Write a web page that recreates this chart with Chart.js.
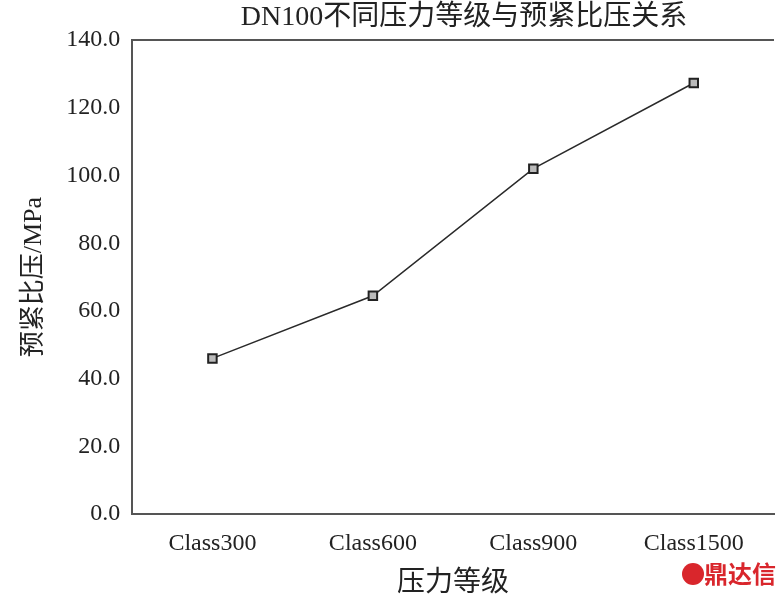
<!DOCTYPE html>
<html>
<head>
<meta charset="utf-8">
<script src="https://cdn.jsdelivr.net/npm/chart.js@4"></script>
<style>
html,body{margin:0;padding:0;background:#fff;}
#wrap{width:782px;height:596px;position:relative;}
</style>
</head>
<body>
<div id="wrap"><canvas id="c"></canvas></div>
<script>
const categories = ["Class300", "Class600", "Class900", "Class1500"];
const pressureValues = [46.0, 64.5, 102.0, 127.3];
const yTicks = [0, 20, 40, 60, 80, 100, 120, 140];
const titleText = "DN100不同压力等级与预紧比压关系";
const xTitle = "压力等级";
const yTitle = "预紧比压/MPa";
const watermark = "鼎达信";

const serif = "'Liberation Serif','Noto Sans CJK SC',serif";

const framePlugin = {
  id: 'frame',
  afterDraw(chart) {
    const {ctx, chartArea} = chart;
    ctx.save();
    ctx.strokeStyle = '#555';
    ctx.lineWidth = 2;
    ctx.beginPath();
    ctx.moveTo(chartArea.left, chartArea.top);
    ctx.lineTo(chartArea.right, chartArea.top);
    ctx.stroke();
    // title centred over the plot area
    ctx.fillStyle = '#222';
    ctx.font = "28px " + serif;
    ctx.textAlign = 'center';
    ctx.textBaseline = 'middle';
    ctx.fillText(titleText, 464, 18);
    // watermark
    ctx.fillStyle = '#d9262c';
    ctx.font = "bold 24px 'Noto Sans CJK SC'";
    ctx.textAlign = 'right';
    ctx.fillText(watermark, 776, 574);
    ctx.beginPath();
    ctx.arc(693, 574, 11, 0, Math.PI * 2);
    ctx.fill();
    ctx.restore();
  }
};

new Chart(document.getElementById('c'), {
  type: 'line',
  data: {
    labels: categories,
    datasets: [{
      data: pressureValues,
      borderColor: '#2a2a2a',
      borderWidth: 1.5,
      pointStyle: 'rect',
      pointRadius: 6,
      pointBorderColor: '#222',
      pointBorderWidth: 2,
      pointBackgroundColor: '#bbb',
      tension: 0
    }]
  },
  options: {
    responsive: true,
    maintainAspectRatio: false,
    animation: false,
    layout: {padding: {top: 40, right: 0, left: 19, bottom: -2}},
    plugins: {
      legend: {display: false},
      tooltip: {enabled: false},
      title: {display: false}
    },
    scales: {
      x: {
        offset: true,
        grid: {display: false, drawTicks: false},
        border: {color: '#555', width: 2},
        ticks: {color: '#222', font: {family: serif, size: 24}, padding: 15, maxRotation: 0},
        title: {display: true, text: xTitle, color: '#222', font: {family: serif, size: 28, lineHeight: 1}, padding: {top: -3, bottom: 0}}
      },
      y: {
        min: 0,
        max: 140,
        afterBuildTicks(axis) { axis.ticks = yTicks.map(v => ({value: v})); },
        grid: {display: false, drawTicks: false},
        border: {color: '#555', width: 2},
        ticks: {color: '#222', font: {family: serif, size: 24}, padding: 12, callback: v => Number(v).toFixed(1)},
        title: {display: true, text: yTitle, color: '#222', font: {family: serif, size: 26}, padding: {top: 0, bottom: 4}}
      }
    }
  },
  plugins: [framePlugin]
});
</script>
</body>
</html>
